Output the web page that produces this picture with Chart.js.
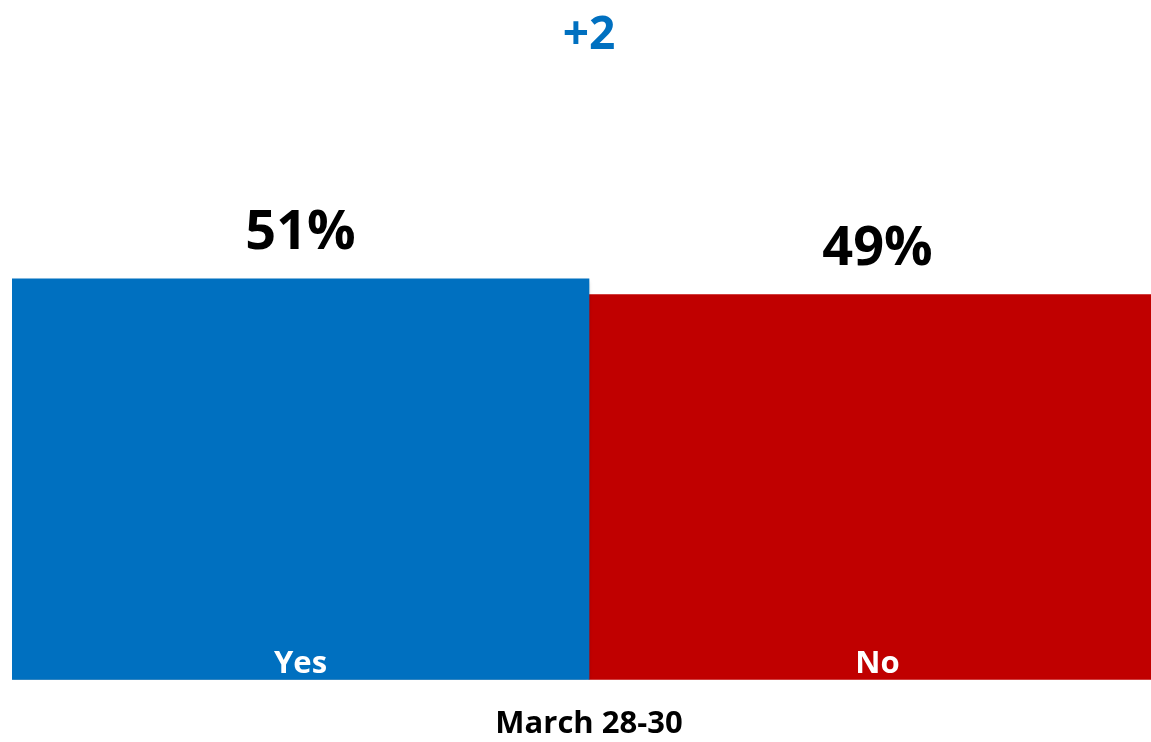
<!DOCTYPE html>
<html>
<head>
<meta charset="utf-8">
<script src="https://cdn.jsdelivr.net/npm/chart.js@4"></script>
<style>
  body { margin: 0; overflow: hidden; background: #fff; }
  #wrap { width: 1166px; height: 769px; }
</style>
</head>
<body>
<div id="wrap"><canvas id="chart"></canvas></div>
<script>
// Chart data
let categories = ["March 28-30"];
let seriesNames = ["Yes", "No"];
let yesValues = [51];
let noValues = [49];
let seriesColors = ["#0070C0", "#C00000"];
let headline = "+2";

let fontFamily = "'Open Sans', 'Liberation Sans', sans-serif";

// Soft shadow under the blue bar only
let shadowPlugin =
{
    id: "barShadow",
    beforeDatasetDraw(chart, args)
    {
        let ctx = chart.ctx;
        ctx.save();
        if (args.index === 0)
        {
            ctx.shadowColor = "rgba(0,0,0,0.35)";
            ctx.shadowBlur = 4;
            ctx.shadowOffsetX = -1;
            ctx.shadowOffsetY = 3;
        }
    },
    afterDatasetDraw(chart)
    {
        chart.ctx.restore();
    }
};

// Value above each bar, series name inside at the bottom
let labelPlugin =
{
    id: "barLabels",
    afterDatasetsDraw(chart)
    {
        let ctx = chart.ctx;
        chart.data.datasets.forEach((ds, i) =>
        {
            let meta = chart.getDatasetMeta(i);
            meta.data.forEach((bar, j) =>
            {
                ctx.save();
                ctx.textAlign = "center";
                ctx.textBaseline = "alphabetic";
                ctx.fillStyle = "#000";
                ctx.font = "bold 54px " + fontFamily;
                ctx.fillText(ds.data[j] + "%", bar.x, bar.y - 30);
                ctx.fillStyle = "#fff";
                ctx.font = "bold 31px " + fontFamily;
                ctx.fillText(ds.label, bar.x, bar.base - 7);
                ctx.restore();
            });
        });
    }
};

new Chart(document.getElementById("chart"),
{
    type: "bar",
    data:
    {
        labels: categories,
        datasets: [
            { label: seriesNames[0], data: yesValues, backgroundColor: seriesColors[0] },
            { label: seriesNames[1], data: noValues, backgroundColor: seriesColors[1] }
        ]
    },
    options:
    {
        responsive: true,
        maintainAspectRatio: false,
        animation: false,
        layout: { padding: { left: 12, right: 0, top: 0, bottom: 0 } },
        datasets: { bar: { categoryPercentage: 1, barPercentage: 1 } },
        plugins:
        {
            legend: { display: false },
            tooltip: { enabled: false },
            title:
            {
                display: true,
                text: headline,
                color: "#0070C0",
                font: { family: fontFamily, size: 46, weight: "bold" },
                padding: { top: 8, bottom: 145 }
            }
        },
        scales:
        {
            x:
            {
                grid: { display: false, drawTicks: false },
                border: { display: false },
                ticks:
                {
                    color: "#000",
                    padding: 26,
                    font: { family: fontFamily, size: 31, weight: "bold" }
                }
            },
            y:
            {
                display: false,
                min: 0,
                max: 60
            }
        }
    },
    plugins: [shadowPlugin, labelPlugin]
});
</script>
</body>
</html>
